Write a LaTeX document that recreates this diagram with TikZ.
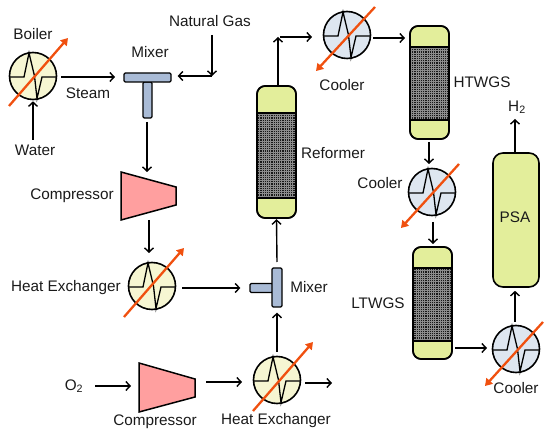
\documentclass[tikz,border=0pt]{standalone}
\usepackage{fontspec}
\setmainfont{Liberation Sans}
\usetikzlibrary{arrows.meta,calc}
\definecolor{hotfill}{HTML}{F6F6D2}
\definecolor{coolfill}{HTML}{DEE6F0}
\definecolor{mixfill}{HTML}{A9BBD6}
\definecolor{compfill}{HTML}{FF9F9F}
\definecolor{colfill}{HTML}{E3EE9B}
\definecolor{flame}{HTML}{F0500F}
\definecolor{ink}{HTML}{1A1A1A}
\definecolor{mesh}{HTML}{8C8C8C}
\tikzset{
  arr/.style={draw=black,line width=1.4pt,-{Straight Barb[length=4.2pt,width=9pt,line width=1.4pt]}},
  hx/.style={circle,draw=black,line width=1.6pt,minimum size=47pt,inner sep=0pt},
  hot/.style={hx,fill=hotfill},
  cool/.style={hx,fill=coolfill},
  heatarrow/.style={draw=flame,line width=2.3pt,-{Triangle[length=7pt,width=8.5pt]}},
  mixpart/.style={draw=black,line width=1.3pt,fill=mixfill,rounded corners=1.2pt,inner sep=0pt},
  comp/.style={draw=black,line width=1.5pt,fill=compfill,line join=miter},
  vessel/.style={draw=black,line width=1.6pt,fill=colfill,rounded corners=8pt},
  lab/.style={text=ink,font=\fontsize{15.3}{17}\selectfont,inner sep=0pt}
}
% name, centre, style, tail of flame arrow, head of flame arrow
\newcommand{\exch}[5]{%
  \node[#3] (#1) at (#2) {};
  \draw[line width=1.3pt,line join=miter,shift={(#2)}] (-23.5,1) -- (-9,1) -- (-4,-23) -- (1.5,0) -- (4,22.5) -- (9,1) -- (23.5,1);
  \draw[heatarrow] (#4) -- (#5);
}
% name, left, top, right, bottom, section top, section bottom
\newcommand{\column}[7]{%
  \path[vessel] (#2,#3) rectangle (#4,#5);
  \begin{scope}
    \clip (#2,#6) rectangle (#4,#7);
    \fill[black!90] (#2,#6) rectangle (#4,#7);
    \draw[mesh,line width=0.4pt,step=2.2pt] (#2,#6) grid (#4,#7);
  \end{scope}
  \draw[line width=1.6pt] (#2,#6) -- (#4,#6) (#2,#7) -- (#4,#7);
  \draw[vessel,fill=none] (#2,#3) rectangle (#4,#5);
  \node[inner sep=0pt,minimum width=#4pt-#2pt,minimum height=#5pt-#3pt] (#1) at ({(#2+#4)/2},{(#3+#5)/2}) {};
}
\begin{document}
\begin{tikzpicture}[x=1pt,y=-1pt]
\useasboundingbox (0,0) rectangle (550,438);
% exchangers
\exch{boiler}{33,76}{hot}{9,106}{68,38}
\exch{hxa}{152,286}{hot}{124,317}{184,248}
\exch{hxb}{277,380}{hot}{253,411}{313,342}
\exch{coola}{347,35}{cool}{375,7}{316,71}
\exch{coolb}{432,192}{cool}{459,164}{401,228}
\exch{coolc}{516,349}{cool}{543,322}{485,386}
% mixers
\node[mixpart,minimum width=9pt,minimum height=36pt] (mixas) at (147.5,100) {};
\node[mixpart,minimum width=47pt,minimum height=9pt] (mixa) at (147.5,77.5) {};
\node[mixpart,minimum width=23pt,minimum height=9pt] (mixbs) at (261.5,288) {};
\node[mixpart,minimum width=10pt,minimum height=39pt] (mixb) at (277,287.5) {};
% compressors
\draw[comp] (121,172) -- (176,187) -- (176,205) -- (121,220) -- cycle;
\coordinate (compa) at (149,196);
\draw[comp] (139,363) -- (195,379) -- (195,397) -- (139,412) -- cycle;
\coordinate (compb) at (167,387);
% columns
\column{reformer}{257}{86}{296}{218}{113}{198}
\column{ht}{410}{26}{449}{139}{47}{120}
\column{lt}{413}{247}{452}{359}{268}{341}
\node[draw=black,line width=1.6pt,fill=colfill,rounded corners=10pt,minimum width=46pt,minimum height=134pt,inner sep=0pt] (psa) at (516,220) {};
% free ends
\coordinate (water) at (33,140);
\coordinate (steamend) at (115,77);
\coordinate (gasstart) at (212,35);
\coordinate (gasturn) at (212,76);
\coordinate (refturn) at (278,37);
\coordinate (hxbout) at (332,383);
\coordinate (oxstart) at (95,386);
\coordinate (oxend) at (131,386);
\coordinate (hydrogen) at (515,119);
% connectors
\draw[arr] (water) -- ($(boiler.south)+(0,1)$);
\draw[arr] (61,77) -- (steamend);
\draw[arr] (gasstart) -- (gasturn);
\draw[arr] (gasturn) -- ($(mixa.east)+(6,-1.5)$);
\draw[arr] (147,122) -- (147,172);
\draw[arr] (149,220) -- (149,253);
\draw[arr] (182,288) -- ($(mixbs.west)+(-9,0)$);
\draw[arr] (277,262) -- ($(reformer.south)+(0,1)$);
\draw[arr] (277,352) -- ($(mixb.south)+(0,5)$);
\draw[arr] (305,383) -- (hxbout);
\draw[arr] (oxstart) -- (oxend);
\draw[arr] (206,382) -- (242,382);
\draw[arr] (278,86) -- (refturn);
\draw[arr] (280,37) -- (312,37);
\draw[arr] (373,38) -- (405,38);
\draw[arr] (429,142) -- (429,164);
\draw[arr] (433,222) -- (433,244);
\draw[arr] (455,348) -- (487,348);
\draw[arr] (515,322) -- ($(psa.south)+(-1,3)$);
\draw[arr] (515,152) -- (hydrogen);
% labels
\node[lab] (tboiler) at (33,34) {Boiler};
\node[lab] (twater) at (35,150) {Water};
\node[lab] (tsteam) at (88,93) {Steam};
\node[lab] (tmixa) at (150,52) {Mixer};
\node[lab] (tgas) at (210,21) {Natural Gas};
\node[lab] (tcompa) at (72,196) {Compressor};
\node[lab] (thxa) at (66,288) {Heat Exchanger};
\node[lab] (tmixb) at (309,287) {Mixer};
\node[lab] (tox) at (74,386) {O\textsubscript{2}};
\node[lab] (tcompb) at (155,422) {Compressor};
\node[lab] (thxb) at (276,421) {Heat Exchanger};
\node[lab] (treformer) at (333,153) {Reformer};
\node[lab] (tcoola) at (342,85) {Cooler};
\node[lab] (tht) at (482,82) {HTWGS};
\node[lab] (tcoolb) at (380,183) {Cooler};
\node[lab] (tlt) at (378,303) {LTWGS};
\node[lab] (tcoolc) at (516,388) {Cooler};
\node[lab] (tpsa) at (515,217) {PSA};
\node[lab] (thyd) at (517,107) {H\textsubscript{2}};
\end{tikzpicture}
\end{document}
